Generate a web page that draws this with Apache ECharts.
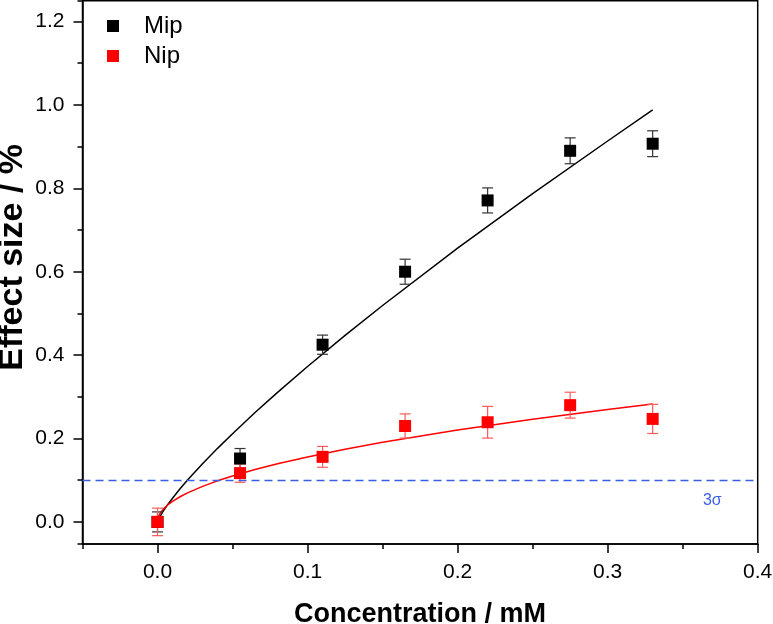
<!DOCTYPE html>
<html>
<head>
<meta charset="utf-8">
<script src="https://cdn.jsdelivr.net/npm/echarts@6/dist/echarts.min.js"></script>
<style>html,body{margin:0;padding:0;background:#fff}#c{width:773px;height:624px}</style>
</head>
<body>
<div id="c"></div>
<script>
// ---- data ----
var concentrations = [0, 0.055, 0.11, 0.165, 0.22, 0.275, 0.33];
var mipValues = [0, 0.152, 0.425, 0.600, 0.771, 0.890, 0.907];
var mipErrors = [0.024, 0.024, 0.023, 0.030, 0.030, 0.031, 0.031];
var nipValues = [0, 0.117, 0.156, 0.230, 0.239, 0.280, 0.247];
var nipErrors = [0.033, 0.022, 0.025, 0.029, 0.038, 0.031, 0.035];
// fitted curves
var fitX = [0, 0.001, 0.002, 0.004, 0.007, 0.01, 0.015, 0.02, 0.03, 0.04, 0.05, 0.065, 0.08, 0.1, 0.125, 0.15, 0.2, 0.25, 0.3, 0.33];
var mipFitY = [0, 0.0087, 0.0153, 0.027, 0.0426, 0.0569, 0.0793, 0.1003, 0.1395, 0.1764, 0.2116, 0.2624, 0.3106, 0.3726, 0.4473, 0.519, 0.6564, 0.7874, 0.9135, 0.988];
var nipFitY = [0, 0.0156, 0.022, 0.0312, 0.0412, 0.0493, 0.0603, 0.0697, 0.0853, 0.0985, 0.1101, 0.1256, 0.1393, 0.1558, 0.1742, 0.1908, 0.2203, 0.2463, 0.2698, 0.283];
var threeSigma = 0.096;
var seriesNames = ['Mip', 'Nip'];
var xAxisTitle = 'Concentration / mM';
var yAxisTitle = 'Effect size / %';

function pairs(xs, ys) { return xs.map(function (x, i) { return [x, ys[i]]; }); }
function errData(xs, ys, es) { return xs.map(function (x, i) { return [x, ys[i] - es[i], ys[i] + es[i]]; }); }

function errRender(color) {
  return function (params, api) {
    var lo = api.coord([api.value(0), api.value(1)]);
    var hi = api.coord([api.value(0), api.value(2)]);
    var hw = 5.5;
    var st = { stroke: color, lineWidth: 1.2 };
    return {
      type: 'group',
      children: [
        { type: 'line', shape: { x1: lo[0], y1: lo[1], x2: hi[0], y2: hi[1] }, style: st },
        { type: 'line', shape: { x1: lo[0] - hw, y1: lo[1], x2: lo[0] + hw, y2: lo[1] }, style: st },
        { type: 'line', shape: { x1: hi[0] - hw, y1: hi[1], x2: hi[0] + hw, y2: hi[1] }, style: st }
      ]
    };
  };
}

var font = 'Liberation Sans, Arial, sans-serif';
var chart = echarts.init(document.getElementById('c'), null, { renderer: 'canvas' });
chart.setOption({
  animation: false,
  textStyle: { fontFamily: font },
  grid: {
    left: 82.5, right: 15.3, top: 0.7, bottom: 80,
    containLabel: false, outerBoundsMode: 'none',
    show: true, borderColor: '#000', borderWidth: 1.5, backgroundColor: 'transparent'
  },
  legend: {
    data: seriesNames,
    orient: 'vertical',
    left: 102, top: 9,
    itemWidth: 12, itemHeight: 12, itemGap: 6,
    itemStyle: { opacity: 1 },
    textStyle: { fontSize: 24, color: '#000', fontFamily: font, padding: [0, 0, 0, 20], lineHeight: 24 }
  },
  xAxis: [{
    type: 'value', min: -0.05, max: 0.4, splitNumber: 4,
    name: xAxisTitle, nameLocation: 'middle', nameGap: 57, nameMoveOverlap: false,
    nameTextStyle: { fontSize: 27, fontWeight: 'bold', color: '#000', fontFamily: font },
    axisLine: { show: true, onZero: false, lineStyle: { color: '#000', width: 1.5 } },
    axisTick: { show: true, inside: false, length: 9, lineStyle: { color: '#000', width: 1.5 } },
    axisLabel: { fontSize: 21, color: '#000', margin: 18, showMinLabel: false, formatter: function (v) { return v.toFixed(1); } },
    splitLine: { show: false }
  }, {
    type: 'value', min: -0.05, max: 0.4, splitNumber: 9, position: 'bottom', offset: 0,
    axisLine: { show: false, onZero: false }, axisLabel: { show: false }, splitLine: { show: false },
    axisTick: { show: true, inside: false, length: 5, lineStyle: { color: '#000', width: 1.5 } }
  }],
  yAxis: [{
    type: 'value', min: -0.053, max: 1.25, splitNumber: 6,
    name: yAxisTitle, nameLocation: 'middle', nameGap: 53, nameMoveOverlap: false,
    nameTextStyle: { fontSize: 34, fontWeight: 'bold', color: '#000', fontFamily: font, padding: [0, 0, 0, 30] },
    axisLine: { show: true, onZero: false, lineStyle: { color: '#000', width: 1.5 } },
    axisTick: { show: true, inside: false, length: 9, lineStyle: { color: '#000', width: 1.5 } },
    axisLabel: { fontSize: 21, color: '#000', margin: 18, showMinLabel: false, showMaxLabel: false, formatter: function (v) { return v.toFixed(1); } },
    splitLine: { show: false }
  }, {
    type: 'value', min: -0.053, max: 1.25, splitNumber: 13, position: 'left', offset: 0,
    axisLine: { show: false, onZero: false }, axisLabel: { show: false }, splitLine: { show: false },
    axisTick: { show: true, inside: false, length: 5, lineStyle: { color: '#000', width: 1.5 } }
  }],
  series: [
    {
      name: '3σ line', type: 'line', data: [], silent: true,
      markLine: {
        silent: true, symbol: 'none', animation: false,
        lineStyle: { color: '#3b5ee8', type: [8, 5], width: 1.3 },
        label: { show: true, position: 'insideEndBottom', formatter: '3σ', color: '#3b5ee8', fontSize: 16, fontFamily: font, distance: [36, 12] },
        data: [{ yAxis: threeSigma }]
      }
    },
    { name: 'Mip fit', type: 'line', data: pairs(fitX, mipFitY), showSymbol: false, smooth: false, lineStyle: { color: '#000', width: 1.5 }, silent: true, z: 3 },
    { name: 'Nip fit', type: 'line', data: pairs(fitX, nipFitY), showSymbol: false, smooth: false, lineStyle: { color: '#ff0000', width: 1.5 }, silent: true, z: 3 },
    { name: 'Mip err', type: 'custom', renderItem: errRender('#333333'), data: errData(concentrations, mipValues, mipErrors), z: 4, silent: true },
    { name: 'Nip err', type: 'custom', renderItem: errRender('#ff5a5a'), data: errData(concentrations, nipValues, nipErrors), z: 4, silent: true },
    { name: 'Mip', type: 'scatter', symbol: 'rect', symbolSize: 12, data: pairs(concentrations, mipValues), itemStyle: { color: '#000', opacity: 1 }, z: 5 },
    { name: 'Nip', type: 'scatter', symbol: 'rect', symbolSize: 12, data: pairs(concentrations, nipValues), itemStyle: { color: '#ff0000', opacity: 1 }, z: 6 }
  ]
});
</script>
</body>
</html>
